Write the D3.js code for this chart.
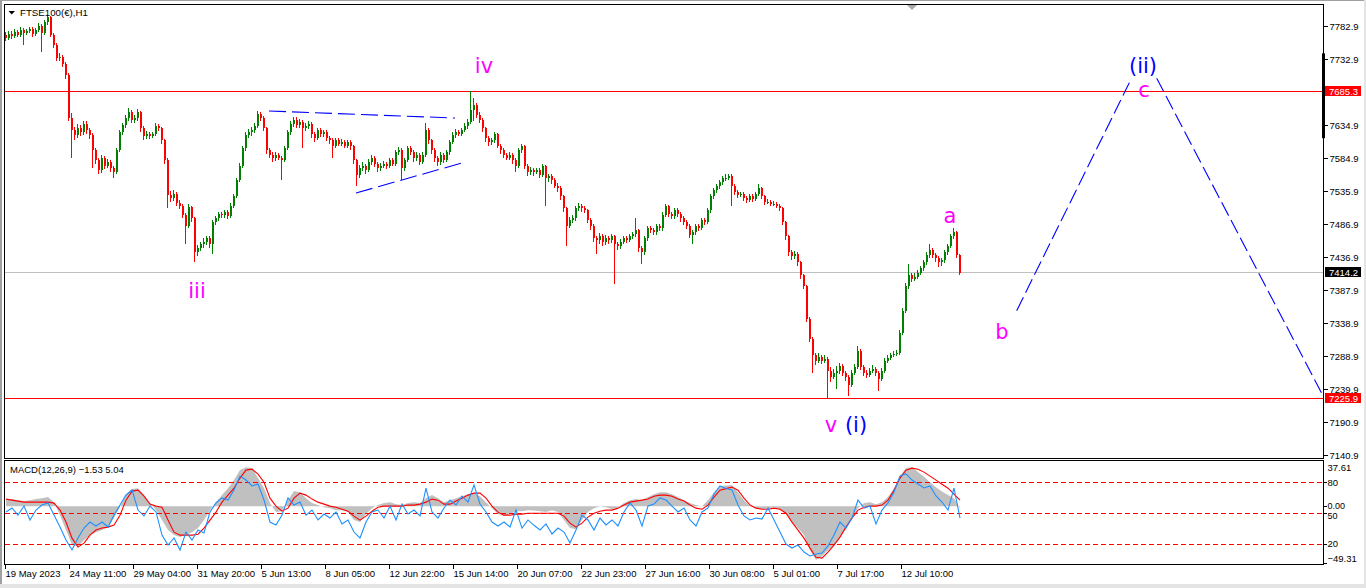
<!DOCTYPE html>
<html>
<head>
<meta charset="utf-8">
<script src="https://cdn.jsdelivr.net/npm/d3@7/dist/d3.min.js"></script>
<style>
html,body{margin:0;padding:0;background:#ffffff;overflow:hidden;}
svg{display:block;}
</style>
</head>
<body>
<svg id="chart" width="1366" height="588"></svg>
<script>
// ================= DATA =================
const symbolTitle = "FTSE100(€),H1";

// H1 candles aggregated 3 hours per candle
const openP = [7770,
7765,7771,7768,7774,7770,7777,7772,7775,7778,7771,
7777,7783,7772,7789,7796,7770,7754,7735,7736,7726,
7710,7645,7627,7620,7630,7624,7636,7627,7620,7597,
7582,7567,7585,7574,7579,7570,7564,7597,7624,7634,
7645,7654,7642,7645,7654,7630,7618,7622,7618,7621,
7633,7630,7612,7582,7530,7525,7532,7518,7514,7500,
7484,7512,7495,7444,7450,7456,7460,7465,7456,7489,
7495,7501,7500,7504,7498,7514,7528,7552,7574,7600,
7620,7624,7627,7633,7651,7645,7630,7597,7590,7585,
7590,7586,7582,7600,7624,7636,7642,7634,7639,7630,
7633,7636,7621,7615,7627,7621,7624,7615,7612,7604,
7612,7607,7610,7604,7609,7603,7582,7560,7570,7574,
7567,7579,7585,7576,7570,7574,7577,7573,7582,7577,
7594,7597,7570,7582,7600,7594,7585,7590,7579,7590,
7627,7612,7597,7585,7579,7590,7582,7594,7609,7620,
7625,7622,7627,7633,7639,7657,7664,7650,7642,7630,
7615,7609,7612,7621,7604,7597,7590,7586,7590,7582,
7574,7597,7603,7574,7564,7567,7564,7567,7560,7573,
7555,7558,7552,7544,7540,7528,7510,7484,7492,7495,
7510,7513,7510,7507,7492,7483,7465,7462,7468,7459,
7465,7462,7468,7456,7453,7460,7465,7462,7468,7471,
7477,7450,7444,7465,7480,7477,7474,7483,7480,7500,
7513,7501,7498,7507,7501,7495,7489,7483,7470,7474,
7483,7480,7492,7489,7507,7528,7537,7543,7549,7555,
7556,7558,7543,7534,7530,7531,7525,7522,7528,7524,
7531,7540,7528,7519,7520,7516,7517,7513,7510,7489,
7468,7444,7438,7441,7429,7410,7394,7345,7315,7290,
7282,7288,7282,7285,7267,7258,7264,7267,7274,7264,
7258,7246,7264,7273,7297,7273,7264,7261,7267,7270,
7264,7255,7267,7282,7286,7290,7292,7294,7324,7357,
7394,7410,7405,7408,7414,7420,7429,7440,7447,7440,
7435,7429,7432,7444,7453,7468,7474,7440];

const highP = [
7774,7775,7776,7778,7777,7781,7780,7779,7782,7781,
7780,7787,7786,7792,7800,7798,7773,7757,7742,7740,
7729,7712,7652,7632,7636,7634,7641,7640,7631,7623,
7600,7586,7590,7588,7584,7582,7574,7600,7627,7638,
7649,7660,7657,7650,7658,7656,7633,7626,7625,7625,
7637,7636,7632,7614,7585,7536,7537,7535,7522,7517,
7503,7517,7514,7497,7455,7460,7465,7469,7468,7493,
7499,7505,7505,7508,7507,7518,7532,7556,7578,7604,
7624,7629,7632,7638,7655,7654,7648,7632,7600,7594,
7594,7593,7589,7604,7628,7640,7647,7646,7644,7642,
7638,7641,7639,7624,7631,7630,7628,7627,7619,7615,
7616,7615,7614,7613,7613,7612,7605,7584,7575,7579,
7577,7584,7590,7588,7580,7578,7581,7580,7586,7585,
7598,7602,7600,7586,7604,7604,7597,7594,7593,7594,
7637,7630,7614,7600,7588,7594,7593,7598,7613,7624,
7629,7628,7631,7637,7643,7685,7675,7668,7654,7645,
7632,7618,7616,7625,7623,7607,7600,7593,7594,7593,
7585,7601,7607,7605,7577,7572,7570,7571,7570,7577,
7575,7562,7561,7555,7548,7543,7530,7512,7497,7500,
7514,7518,7516,7514,7509,7495,7486,7469,7473,7471,
7470,7468,7472,7470,7460,7464,7469,7468,7472,7475,
7495,7479,7453,7469,7484,7484,7481,7487,7486,7504,
7517,7515,7505,7511,7510,7504,7498,7492,7486,7478,
7487,7486,7496,7495,7511,7532,7541,7547,7553,7559,
7561,7562,7561,7546,7537,7535,7534,7528,7532,7531,
7535,7546,7542,7530,7524,7523,7521,7520,7516,7512,
7491,7470,7448,7446,7444,7431,7412,7396,7348,7318,
7294,7293,7291,7290,7288,7272,7270,7274,7279,7277,
7267,7261,7268,7277,7304,7299,7276,7268,7271,7275,
7273,7267,7271,7286,7290,7294,7296,7298,7328,7361,
7398,7426,7414,7413,7418,7424,7433,7444,7457,7450,
7443,7438,7436,7448,7457,7472,7480,7476,7442];

const lowP = [
7761,7762,7764,7765,7766,7767,7754,7769,7772,7767,
7768,7774,7744,7770,7785,7766,7750,7731,7730,7722,
7704,7640,7586,7612,7615,7618,7620,7622,7614,7571,
7576,7562,7563,7569,7570,7565,7555,7561,7594,7620,
7630,7641,7637,7638,7641,7625,7613,7614,7614,7615,
7618,7626,7607,7577,7511,7519,7521,7513,7509,7495,
7457,7480,7490,7429,7439,7446,7451,7455,7451,7442,
7485,7491,7496,7496,7494,7495,7511,7525,7549,7571,
7596,7616,7619,7623,7630,7640,7626,7592,7585,7580,
7581,7582,7552,7579,7597,7620,7632,7630,7630,7600,
7626,7629,7616,7610,7612,7617,7617,7611,7607,7586,
7600,7603,7603,7600,7601,7598,7577,7544,7556,7566,
7562,7564,7575,7572,7565,7566,7570,7569,7570,7573,
7574,7590,7552,7566,7579,7590,7580,7581,7575,7576,
7587,7607,7592,7580,7574,7575,7578,7579,7590,7606,
7616,7618,7618,7624,7629,7636,7640,7645,7637,7625,
7610,7604,7605,7608,7600,7592,7586,7582,7583,7577,
7564,7571,7593,7569,7559,7560,7559,7561,7555,7557,
7514,7550,7547,7540,7535,7523,7504,7453,7480,7488,
7491,7506,7505,7503,7488,7478,7460,7442,7457,7454,
7455,7457,7458,7397,7448,7449,7456,7458,7459,7464,
7467,7445,7426,7440,7461,7473,7470,7470,7476,7476,
7497,7497,7494,7494,7497,7490,7485,7479,7465,7457,
7470,7476,7477,7485,7486,7503,7524,7533,7539,7545,
7551,7552,7513,7530,7526,7527,7521,7518,7519,7520,
7521,7528,7524,7515,7516,7513,7513,7510,7506,7485,
7463,7439,7433,7434,7424,7405,7389,7340,7310,7264,
7276,7278,7277,7279,7226,7250,7254,7240,7262,7259,
7252,7229,7242,7260,7270,7268,7259,7256,7257,7263,
7259,7236,7252,7263,7278,7283,7287,7289,7291,7320,
7353,7390,7400,7401,7404,7410,7416,7425,7436,7435,
7430,7422,7424,7428,7440,7450,7464,7435,7410];

const closeP = [
7765,7771,7768,7774,7770,7777,7772,7775,7778,7771,
7777,7783,7772,7789,7796,7770,7754,7735,7736,7726,
7710,7645,7627,7620,7630,7624,7636,7627,7620,7597,
7582,7567,7585,7574,7579,7570,7564,7597,7624,7634,
7645,7654,7642,7645,7654,7630,7618,7622,7618,7621,
7633,7630,7612,7582,7530,7525,7532,7518,7514,7500,
7484,7512,7495,7444,7450,7456,7460,7465,7456,7489,
7495,7501,7500,7504,7498,7514,7528,7552,7574,7600,
7620,7624,7627,7633,7651,7645,7630,7597,7590,7585,
7590,7586,7582,7600,7624,7636,7642,7634,7639,7630,
7633,7636,7621,7615,7627,7621,7624,7615,7612,7604,
7612,7607,7610,7604,7609,7603,7582,7560,7570,7574,
7567,7579,7585,7576,7570,7574,7577,7573,7582,7577,
7594,7597,7570,7582,7600,7594,7585,7590,7579,7590,
7627,7612,7597,7585,7579,7590,7582,7594,7609,7620,
7625,7622,7627,7633,7639,7657,7664,7650,7642,7630,
7615,7609,7612,7621,7604,7597,7590,7586,7590,7582,
7574,7597,7603,7574,7564,7567,7564,7567,7560,7573,
7555,7558,7552,7544,7540,7528,7510,7484,7492,7495,
7510,7513,7510,7507,7492,7483,7465,7462,7468,7459,
7465,7462,7468,7456,7453,7460,7465,7462,7468,7471,
7477,7450,7444,7465,7480,7477,7474,7483,7480,7500,
7513,7501,7498,7507,7501,7495,7489,7483,7470,7474,
7483,7480,7492,7489,7507,7528,7537,7543,7549,7555,
7556,7558,7543,7534,7530,7531,7525,7522,7528,7524,
7531,7540,7528,7519,7520,7516,7517,7513,7510,7489,
7468,7444,7438,7441,7429,7410,7394,7345,7315,7290,
7282,7288,7282,7285,7267,7258,7264,7267,7274,7264,
7258,7246,7264,7273,7297,7273,7264,7261,7267,7270,
7264,7255,7267,7282,7286,7290,7292,7294,7324,7357,
7394,7410,7405,7408,7414,7420,7429,7440,7447,7440,
7435,7429,7432,7444,7453,7468,7474,7440,7414];

// MACD(12,26,9) main (grey histogram), one value every 6 hours
const macdMain = [
5.1,6.0,5.1,4.3,5.1,6.0,6.8,7.7,3.4,-7.7,
-20.4,-33.2,-34.1,-29.0,-24.7,-22.2,-20.4,-17.9,-10.2,-0.9,
9.4,14.5,15.3,9.4,2.6,-3.4,-11.9,-20.4,-24.7,-26.4,
-24.7,-22.2,-18.7,-11.9,-3.4,3.4,9.4,15.3,22.2,30.7,
33.2,32.4,23.9,15.3,2.6,-5.1,-4.3,5.1,12.8,11.9,
6.8,2.6,0.9,-0.9,-1.7,-3.4,-3.4,-5.1,-11.9,-13.6,
-6.8,-1.7,0.9,2.6,3.4,1.7,0.9,2.6,3.4,2.6,
6.8,9.4,6.8,
3.4,5.1,6.8,8.5,10.2,11.1,8.5,3.4,-1.7,-6.8,-8.5,-6.8,-4.3,-4.3,-3.4,
-3.8,
-4.3,-5.1,-3.4,-5.1,-11.9,-18.7,-19.6,-11.9,-5.1,-1.7,0,-0.9,-2.6,-0.9,2.6,5.1,6.0,5.1,7.7,10.2,11.9,11.9,10.2,7.7,5.1,2.6,0.9,0,5.1,11.9,17.0,
17.5,
17.9,11.9,5.1,0,-1.7,-2.6,-1.7,-0.9,-2.6,-6.8,-13.6,-18.7,-24.7,-37.5,-46.0,-42.6,-37.5,-33.2,-26.4,-18.7,-10.2,-1.7,2.6,3.4,1.7,3.4,7.7,15.3,25.6,32.4,33.2,
29.0,25.0,20.4,16.0,12.5,9.5,6.8,-1.53];

// MACD signal line (red)
const macdSignal = [
6.0,5.1,4.3,3.4,3.4,3.4,3.4,3.4,2.6,-3.4,
-13.6,-27.3,-34.9,-31.5,-24.7,-20.4,-18.7,-17.9,-16.2,-7.7,
5.1,12.8,13.6,8.5,1.7,0,-0.9,-11.9,-22.2,-24.7,
-24.7,-24.7,-23.9,-18.7,-11.9,-5.1,3.4,9.4,15.3,23.9,
30.7,31.5,27.3,20.4,6.8,0,-4.3,-1.7,6.8,11.1,
9.4,6.0,3.4,1.7,0,-0.9,-2.6,-4.3,-8.5,-11.9,
-8.5,-4.3,-0.9,0,0,0,0,0.9,0.9,1.7,
3.4,6.0,5.1,
1.7,1.7,4.3,6.8,9.4,11.1,11.1,6.8,0,-5.1,-7.7,-7.7,-6.8,-6.8,-6.0,
-6.0,
-6.0,-6.0,-6.0,-6.0,-8.5,-14.5,-17.9,-14.5,-9.4,-6.0,-4.3,-3.4,-3.4,-1.7,0.9,3.4,4.3,5.1,6.0,8.5,9.4,9.4,8.5,6.0,4.3,0.9,-1.7,-2.6,0.9,7.7,13.6,
14.9,
16.2,13.6,6.8,0.9,-1.7,-2.6,-2.6,-1.7,-2.6,-6.0,-13.6,-20.4,-27.3,-35.8,-43.5,-44.3,-39.2,-33.2,-26.4,-17.9,-10.2,-3.4,-0.9,0,0,0.9,5.1,13.6,23.9,30.7,32.4,
31.5,29.0,25.6,22.2,18.7,15.3,10.2,5.04];

// blue oscillator (0-100 scale with 20/50/80 levels)
const oscValues = [
51.0,54.9,48.0,56.8,43.2,52.9,57.8,59.8,48.0,36.3,
23.6,13.9,25.6,35.3,41.2,37.3,41.2,36.3,48.0,57.8,
67.6,72.5,52.9,47.1,56.8,51.0,28.5,18.7,25.6,13.9,
31.4,23.6,33.4,30.5,51.0,59.8,64.7,62.7,72.5,86.1,
82.2,76.4,78.3,62.7,41.2,38.3,48.0,64.7,57.8,60.7,
48.0,52.9,43.2,49.0,45.1,51.0,39.3,43.2,31.4,25.6,
41.2,51.0,52.9,45.1,56.8,43.2,58.8,49.0,52.9,47.1,
74.4,51.0,45.1,
54.9,62.7,57.8,66.6,60.7,77.4,58.8,51.0,41.2,37.3,41.2,36.3,52.9,35.3,43.2,
38.0,
33.4,39.3,29.5,35.3,31.4,20.7,33.4,48.0,43.2,33.4,45.1,38.3,43.2,37.3,51.0,59.8,52.9,37.3,56.8,58.8,64.7,62.7,56.8,51.0,54.9,43.2,37.3,51.0,54.9,68.6,76.4,
74.0,
72.5,57.8,47.1,43.2,45.1,44.1,54.9,43.2,31.4,19.7,15.8,18.7,11.9,8.0,9.9,10.9,17.8,28.5,41.2,35.3,45.1,62.7,54.9,56.8,39.3,52.9,59.8,70.5,86.1,88.1,82.2,
78.3,74.4,76.4,66.6,60.7,52.9,74.4,45.1];

const priceTicks = [7782.9,7732.9,7634.9,7584.9,7535.9,7486.9,7436.9,7387.9,7338.9,7288.9,7239.9,7190.9,7140.9];
const dateLabels = ["19 May 2023","24 May 11:00","29 May 04:00","31 May 20:00","5 Jun 13:00","8 Jun 05:00","12 Jun 22:00","15 Jun 14:00","20 Jun 07:00","22 Jun 23:00","27 Jun 16:00","30 Jun 08:00","5 Jul 01:00","7 Jul 17:00","12 Jul 10:00"];
const dateBars = [0,64,128,192,256,320,384,448,512,576,640,704,768,832,896];

const levelPrices = [7685.3, 7414.2, 7225.9];
const levelKinds  = ["resist", "bid", "support"];
const oscLevels = [80, 50, 20];
const macdRange = [-49.31, 37.61];
const macdLegend = "MACD(12,26,9)";

const waveText  = ["iv","iii","v","(i)","a","b","(ii)","c"];
const waveBar   = [479, 192, 826, 851, 945, 997, 1138, 1139];
const wavePrice = [7712.6, 7375.8, 7175.8, 7175.8, 7487.6, 7314.0, 7712.1, 7677.1];
const waveDegree = ["minor","minor","minor","major","minor","minor","major","minor"];

const triUpperBar = [264, 450],   triUpperPrice = [7655.7, 7645.2];
const triLowerBar = [351, 457],   triLowerPrice = [7533.0, 7577.9];
const projUpBar   = [1011.7, 1124.3], projUpPrice = [7356.8, 7698.0];
const projDnBar   = [1151.7, 1316.7], projDnPrice = [7704.6, 7233.2];

const barsPerCandle = 3;
const barsPerMacdPoint = 6;
const shiftMarkerBar = 907;
const scaleBarPrices = [7742, 7615];

// ================= DRAW =================
const svg = d3.select('#chart');
const FONT = "'Liberation Sans', Arial, sans-serif";
const WAVEFONT = "'DejaVu Sans', Verdana, sans-serif";

const x  = d3.scaleLinear().domain([0, 1318]).range([5, 1323]);
const y  = d3.scaleLinear().domain([7140.9, 7782.9]).range([455, 26]);
const my = d3.scaleLinear().domain(macdRange).range([564, 462]);
const oy = d3.scaleLinear().domain([0, 100]).range([564.2, 461.8]);

// window frame
svg.append('rect').attr('x',0).attr('y',0).attr('width',1366).attr('height',588).attr('fill','#ffffff');
svg.append('rect').attr('x',0).attr('y',0).attr('width',1366).attr('height',1).attr('fill','#a0a0a0');
svg.append('rect').attr('x',0).attr('y',0).attr('width',2).attr('height',588).attr('fill','#a0a0a0');
svg.append('rect').attr('x',0).attr('y',584).attr('width',1366).attr('height',4).attr('fill','#e4e4e4');
svg.append('rect').attr('x',1364).attr('y',0).attr('width',2).attr('height',588).attr('fill','#e4e4e4');

// clip paths
const defs = svg.append('defs');
defs.append('clipPath').attr('id','clipMain').append('rect').attr('x',5).attr('y',5).attr('width',1318).attr('height',453);
defs.append('clipPath').attr('id','clipMacd').append('rect').attr('x',5).attr('y',461).attr('width',1318).attr('height',103);

const main = svg.append('g').attr('clip-path','url(#clipMain)');

// horizontal levels
const levelColor = {resist:'#ff0000', bid:'#c0c0c0', support:'#ff0000'};
main.append('g').attr('shape-rendering','crispEdges').selectAll('line').data(levelPrices).join('line')
  .attr('x1',x(-1)).attr('x2',x(1318))
  .attr('y1',d=>Math.round(y(d))+0.5).attr('y2',d=>Math.round(y(d))+0.5)
  .attr('stroke',(d,i)=>levelColor[levelKinds[i]]).attr('stroke-width',1);

// candles
const candles = closeP.map((c,k)=>({k, o:openP[k], h:highP[k], l:lowP[k], c}));
const cc = d => d.c > d.o ? '#008000' : (d.c < d.o ? '#ff0000' : '#000000');
const gC = main.append('g').attr('shape-rendering','crispEdges');
gC.selectAll('rect.w').data(candles).join('rect').attr('class','w')
  .attr('x', d => Math.round(x(d.k*barsPerCandle)))
  .attr('y', d => Math.round(y(d.h)))
  .attr('width', 1)
  .attr('height', d => Math.max(1, Math.round(y(d.l)) - Math.round(y(d.h))))
  .attr('fill', cc);
gC.selectAll('rect.b').data(candles).join('rect').attr('class','b')
  .attr('x', d => Math.round(x(d.k*barsPerCandle)))
  .attr('y', d => Math.round(y(Math.max(d.o,d.c))))
  .attr('width', 2)
  .attr('height', d => Math.max(1, Math.round(y(Math.min(d.o,d.c))) - Math.round(y(Math.max(d.o,d.c)))))
  .attr('fill', cc);

// dashed annotation lines
const pairLine = d3.line().x(d=>x(d[0])).y(d=>y(d[1]));
const dashed = [
  {b:triUpperBar, p:triUpperPrice, dash:'17,6'},
  {b:triLowerBar, p:triLowerPrice, dash:'17,6'},
  {b:projUpBar,   p:projUpPrice,   dash:'15,5'},
  {b:projDnBar,   p:projDnPrice,   dash:'15,5'}
];
main.append('g').selectAll('path').data(dashed).join('path')
  .attr('d', d => pairLine(d.b.map((bb,i)=>[bb, d.p[i]])))
  .attr('fill','none').attr('stroke','#0000ff').attr('stroke-width',1.1)
  .attr('stroke-dasharray', d=>d.dash);

// wave labels
svg.append('g').selectAll('text').data(waveText).join('text')
  .attr('x',(d,i)=>x(waveBar[i])).attr('y',(d,i)=>y(wavePrice[i]))
  .attr('text-anchor','middle')
  .attr('font-family',WAVEFONT).attr('font-size',21)
  .attr('fill',(d,i)=> waveDegree[i]==='major' ? '#0000ff' : '#ff00ff')
  .text(d=>d);

// panel borders
svg.append('rect').attr('x',4.5).attr('y',4.5).attr('width',1319).attr('height',454)
  .attr('fill','none').attr('stroke','#000').attr('shape-rendering','crispEdges');
svg.append('rect').attr('x',4.5).attr('y',460.5).attr('width',1319).attr('height',104)
  .attr('fill','none').attr('stroke','#000').attr('shape-rendering','crispEdges');

// title
svg.append('path').attr('d','M8.5,11 L15,11 L11.75,14.5 Z').attr('fill','#000');
svg.append('text').attr('x',20).attr('y',16).attr('font-family',FONT).attr('font-size',9.7)
  .attr('fill','#000').text(symbolTitle);

// shift marker
const sx = x(shiftMarkerBar);
svg.append('path').attr('d',`M${sx-5},5 L${sx+5},5 L${sx},10 Z`).attr('fill','#a8a8a8');

// price axis
const ay = d3.axisRight(y).tickValues(priceTicks).tickSize(4).tickPadding(2).tickFormat(d3.format('.1f'));
const gy = svg.append('g').attr('transform','translate(1323.5,0)').call(ay);
gy.select('.domain').remove();
gy.attr('font-family',FONT).attr('font-size',9.5);
gy.selectAll('text').attr('fill','#000').attr('dy','0.36em');
gy.selectAll('line').attr('stroke','#000').attr('shape-rendering','crispEdges');

// scale bar on axis
svg.append('rect').attr('x',1322).attr('y',y(scaleBarPrices[0])).attr('width',3)
  .attr('height',y(scaleBarPrices[1])-y(scaleBarPrices[0])).attr('fill','#000');

// level labels
const boxColor = {resist:'#ff0000', bid:'#000000', support:'#ff0000'};
const gl = svg.append('g');
levelPrices.forEach((p,i)=>{
  const yy = Math.round(y(p));
  gl.append('rect').attr('x',1325).attr('y',yy-5).attr('width',36).attr('height',10)
    .attr('fill',boxColor[levelKinds[i]]);
  gl.append('text').attr('x',1329).attr('y',yy+3.5).attr('font-family',FONT).attr('font-size',9.5)
    .attr('fill','#fff').text(d3.format('.1f')(p));
});

// ---- MACD panel ----
const macd = svg.append('g').attr('clip-path','url(#clipMacd)');
const mx = j => x(j*barsPerMacdPoint + 1);
macd.append('path').datum(macdMain)
  .attr('d', d3.area().x((d,j)=>mx(j)).y0(my(0)).y1(d=>my(d)))
  .attr('fill','#c0c0c0');
macd.append('g').attr('shape-rendering','crispEdges').selectAll('line').data(oscLevels).join('line')
  .attr('x1',5).attr('x2',1323)
  .attr('y1',d=>Math.round(oy(d))+0.5).attr('y2',d=>Math.round(oy(d))+0.5)
  .attr('stroke','#ff0000').attr('stroke-dasharray','5,3');
macd.append('path').datum(macdSignal)
  .attr('d', d3.line().x((d,j)=>mx(j)).y(d=>my(d)))
  .attr('fill','none').attr('stroke','#ff0000').attr('stroke-width',1.1);
macd.append('path').datum(oscValues)
  .attr('d', d3.line().x((d,j)=>mx(j)).y(d=>oy(d)))
  .attr('fill','none').attr('stroke','#1e90ff').attr('stroke-width',1.1);

const fmt2 = d3.format('.2f');
svg.append('text').attr('x',10).attr('y',472.5).attr('font-family',FONT).attr('font-size',9.5).attr('fill','#000')
  .text(`${macdLegend} ${fmt2(macdMain[macdMain.length-1])} ${fmt2(macdSignal[macdSignal.length-1])}`);

// MACD axis labels
const macdAxis = [
  {t:fmt2(macdRange[1]), yy: my(macdRange[1]) + 9, tick:false},
  {t:String(oscLevels[0]), yy: oy(oscLevels[0]) + 3.5, tick:true, ty:oy(oscLevels[0])},
  {t:fmt2(0), yy: my(0) + 2.5, tick:true, ty:my(0), fs:9},
  {t:String(oscLevels[1]), yy: oy(oscLevels[1]) + 5.5, tick:true, ty:oy(oscLevels[1]), fs:9},
  {t:String(oscLevels[2]), yy: oy(oscLevels[2]) + 3.5, tick:true, ty:oy(oscLevels[2])},
  {t:fmt2(macdRange[0]), yy: my(macdRange[0]) - 2.5, tick:true, ty:my(macdRange[0])-1}
];
const gma = svg.append('g');
macdAxis.forEach(a=>{
  gma.append('text').attr('x',1327.5).attr('y',a.yy).attr('font-family',FONT).attr('font-size',a.fs||9.5)
    .attr('fill','#000').text(a.t);
  if (a.tick) gma.append('line').attr('x1',1323.5).attr('x2',1327).attr('y1',Math.round(a.ty)+0.5).attr('y2',Math.round(a.ty)+0.5)
    .attr('stroke','#000').attr('shape-rendering','crispEdges');
});

// date axis
const ax = d3.axisBottom(x).tickValues(dateBars).tickSize(4).tickPadding(2).tickFormat((d,i)=>dateLabels[i]);
const gx = svg.append('g').attr('transform','translate(0,564.5)').call(ax);
gx.select('.domain').remove();
gx.attr('font-family',FONT).attr('font-size',9.5);
gx.selectAll('text').attr('fill','#000').attr('text-anchor','start');
gx.selectAll('line').attr('stroke','#000').attr('shape-rendering','crispEdges');
</script>
</body>
</html>
